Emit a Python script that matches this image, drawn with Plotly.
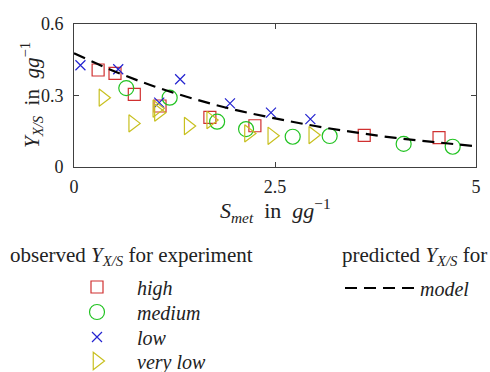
import plotly.graph_objects as go

# observed data
high_x = [0.30, 0.51, 0.75, 1.07, 1.69, 2.25, 3.61, 4.54]
high_y = [0.407, 0.393, 0.305, 0.256, 0.208, 0.173, 0.133, 0.123]
med_x = [0.65, 1.19, 1.78, 2.14, 2.72, 3.18, 4.10, 4.71]
med_y = [0.331, 0.291, 0.190, 0.159, 0.127, 0.130, 0.097, 0.085]
low_x = [0.08, 0.55, 1.06, 1.32, 1.94, 2.45, 2.94]
low_y = [0.427, 0.410, 0.270, 0.368, 0.267, 0.228, 0.201]
vlow_x = [0.36, 0.73, 1.03, 1.05, 1.42, 1.70, 2.17, 2.46, 2.97]
vlow_y = [0.291, 0.183, 0.245, 0.228, 0.172, 0.197, 0.141, 0.131, 0.134]
# model curve
model_x = [0, 0.5, 1, 1.5, 2, 2.5, 3, 3.5, 4, 4.5, 5]
model_y = [0.477, 0.402, 0.338, 0.285, 0.240, 0.204, 0.172, 0.145, 0.122, 0.104, 0.087]

x_ticks = [0, 2.5, 5]
x_tick_labels = ["0", "2.5", "5"]
y_ticks = [0, 0.3, 0.6]
y_tick_labels = ["0", "0.3", "0.6"]

FONT = "Liberation Serif"
W, H = 490, 372
L, R, T, B = 74, 14, 24, 205
PW, PH = W - L - R, H - T - B
axcol = "#404040"
txtcol = "#222222"


def px_x(p):
    return (p - L) / PW


def px_y(p):
    return 1 - (p - T) / PH


fig = go.Figure()
series = [
    (high_x, high_y, "<i>high</i>", "square-open", "#d03030", 12, "legend", 287),
    (med_x, med_y, "<i>medium</i>", "circle-open", "#22c322", 15, "legend3", 312),
    (low_x, low_y, "<i>low</i>", "x-thin-open", "#2323d0", 10, "legend4", 337),
    (vlow_x, vlow_y, "<i>very low</i>", "triangle-right-open", "#c8c020", 15, "legend5", 361),
]
legend_cfg = {}
legfont = dict(family=FONT, size=20, color=txtcol)
for xs, ys, name, sym, col, sz, lg, ypix in series:
    fig.add_trace(go.Scatter(
        x=xs, y=ys, mode="markers", name=name, legend=lg, showlegend=True,
        marker=dict(symbol=sym, color=col, size=sz, line=dict(color=col, width=1.2)),
        cliponaxis=False,
    ))
    legend_cfg[lg] = dict(xref="container", yref="container", x=57 / W, y=1 - ypix / H,
                          xanchor="left", yanchor="middle", itemwidth=70,
                          font=legfont, bgcolor="rgba(0,0,0,0)")
fig.add_trace(go.Scatter(
    x=model_x, y=model_y, mode="lines", name="<i>model</i>", legend="legend2",
    showlegend=True,
    line=dict(color="black", width=2.2, dash="12px,7px", shape="spline"),
))
legend_cfg["legend2"] = dict(xref="container", yref="container", x=340 / W, y=1 - 288 / H,
                             xanchor="left", yanchor="middle", itemwidth=70,
                             font=legfont, bgcolor="rgba(0,0,0,0)")

fig.update_layout(
    width=W, height=H, showlegend=True,
    margin=dict(l=L, r=R, t=T, b=B, autoexpand=False),
    paper_bgcolor="white", plot_bgcolor="white",
    font=dict(family=FONT, size=18, color=txtcol),
    xaxis=dict(range=[0, 5], tickvals=x_ticks, ticktext=x_tick_labels,
               showgrid=False, zeroline=False, showline=True, linecolor=axcol,
               linewidth=1, mirror="ticks", ticks="inside", ticklen=5, tickcolor=axcol,
               ticklabelstandoff=3, tickfont=dict(family=FONT, size=18)),
    yaxis=dict(range=[0, 0.6], tickvals=y_ticks, ticktext=y_tick_labels,
               showgrid=False, zeroline=False, showline=True, linecolor=axcol,
               linewidth=1, mirror="ticks", ticks="inside", ticklen=5, tickcolor=axcol,
               ticklabelstandoff=6, tickfont=dict(family=FONT, size=18)),
    annotations=[
        dict(text="<i>S</i><sub><i>met</i></sub>  in  <i>gg</i><sup>−1</sup>",
             xref="paper", yref="paper", x=px_x(275), y=px_y(210),
             xanchor="center", yanchor="middle", showarrow=False,
             font=dict(family=FONT, size=22)),
        dict(text="<i>Y</i><sub><i>X/S</i></sub>  in  <i>gg</i><sup>−1</sup>",
             xref="paper", yref="paper", x=px_x(31), y=px_y(95), textangle=-90,
             xanchor="center", yanchor="middle", showarrow=False,
             font=dict(family=FONT, size=21)),
        dict(text="observed <i>Y</i><sub><i>X/S</i></sub> for experiment",
             xref="paper", yref="paper", x=px_x(8), y=px_y(256),
             xanchor="left", yanchor="middle", showarrow=False,
             font=dict(family=FONT, size=21)),
        dict(text="predicted <i>Y</i><sub><i>X/S</i></sub> for",
             xref="paper", yref="paper", x=px_x(489), y=px_y(256),
             xanchor="right", yanchor="middle", showarrow=False,
             font=dict(family=FONT, size=21)),
    ],
    **legend_cfg,
)

fig.write_html("out.html", config={"displayModeBar": False},
               post_script="document.body.style.margin='0';")
